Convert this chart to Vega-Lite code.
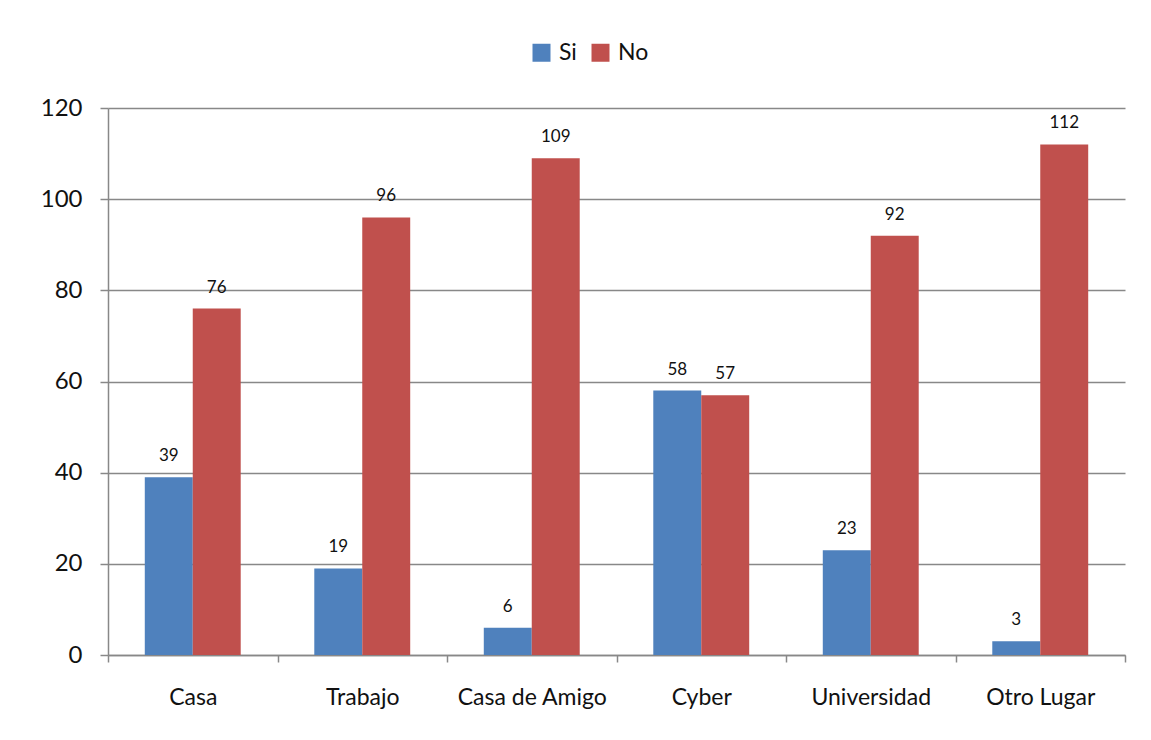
{
  "$schema": "https://vega.github.io/schema/vega-lite/v6.json",
  "width": 1017,
  "height": 547,
  "autosize": {"type": "none"},
  "padding": {"left": 108, "top": 108, "right": 26, "bottom": 85},
  "background": "white",
  "data": {
    "values": [
      {"lugar": "Casa", "respuesta": "Si", "valor": 39},
      {"lugar": "Casa", "respuesta": "No", "valor": 76},
      {"lugar": "Trabajo", "respuesta": "Si", "valor": 19},
      {"lugar": "Trabajo", "respuesta": "No", "valor": 96},
      {"lugar": "Casa de Amigo", "respuesta": "Si", "valor": 6},
      {"lugar": "Casa de Amigo", "respuesta": "No", "valor": 109},
      {"lugar": "Cyber", "respuesta": "Si", "valor": 58},
      {"lugar": "Cyber", "respuesta": "No", "valor": 57},
      {"lugar": "Universidad", "respuesta": "Si", "valor": 23},
      {"lugar": "Universidad", "respuesta": "No", "valor": 92},
      {"lugar": "Otro Lugar", "respuesta": "Si", "valor": 3},
      {"lugar": "Otro Lugar", "respuesta": "No", "valor": 112}
    ]
  },
  "encoding": {
    "x": {
      "field": "lugar",
      "type": "nominal",
      "sort": ["Casa", "Trabajo", "Casa de Amigo", "Cyber", "Universidad", "Otro Lugar"],
      "scale": {"paddingInner": 0, "paddingOuter": 0},
      "axis": {
        "title": null,
        "labelAngle": 0,
        "tickBand": "extent",
        "tickSize": 7,
        "tickColor": "#888888",
        "tickWidth": 1.5,
        "domainColor": "#888888",
        "domainWidth": 1.5,
        "labelFont": "Lato",
        "labelFontSize": 23,
        "labelColor": "#111111",
        "labelPadding": 24
      }
    },
    "xOffset": {
      "field": "respuesta",
      "type": "nominal",
      "sort": ["Si", "No"],
      "scale": {"paddingInner": 0, "paddingOuter": 0.767}
    },
    "y": {
      "field": "valor",
      "type": "quantitative",
      "scale": {"domain": [0, 120], "nice": false},
      "axis": {
        "title": null,
        "values": [0, 20, 40, 60, 80, 100, 120],
        "tickSize": 8,
        "tickColor": "#888888",
        "tickWidth": 1.5,
        "domainColor": "#888888",
        "domainWidth": 1.5,
        "grid": true,
        "gridColor": "#888888",
        "gridWidth": 1.5,
        "labelFont": "Lato",
        "labelFontSize": 24,
        "labelColor": "#111111",
        "labelPadding": 18
      }
    }
  },
  "layer": [
    {
      "mark": {"type": "bar"},
      "encoding": {
        "color": {
          "field": "respuesta",
          "type": "nominal",
          "sort": ["Si", "No"],
          "scale": {"domain": ["Si", "No"], "range": ["#4F81BD", "#C0504D"]},
          "legend": {
            "title": null,
            "orient": "none",
            "direction": "horizontal",
            "legendX": 422,
            "legendY": -67,
            "symbolType": "square",
            "symbolSize": 324,
            "symbolStrokeWidth": 0,
            "labelFont": "Lato",
            "labelFontSize": 23,
            "labelColor": "#111111",
            "labelOffset": 6,
            "columnPadding": 12,
            "padding": 0
          }
        }
      }
    },
    {
      "mark": {"type": "text", "baseline": "bottom", "dy": -12, "font": "Lato", "fontSize": 17, "color": "#111111"},
      "encoding": {"text": {"field": "valor", "type": "quantitative"}}
    }
  ],
  "config": {"view": {"stroke": null}}
}
